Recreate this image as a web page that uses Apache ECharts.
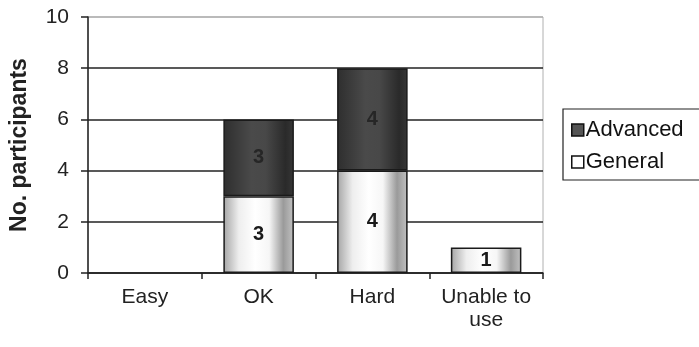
<!DOCTYPE html>
<html>
<head>
<meta charset="utf-8">
<style>
  html, body { margin: 0; padding: 0; background: #fff; }
  #chart { width: 699px; height: 347px; }
</style>
<script src="https://cdn.jsdelivr.net/npm/echarts@6/dist/echarts.min.js"></script>
</head>
<body>
<div id="chart"></div>
<script>
// Ease-of-use ratings, stacked by participant group
const categories = ['Easy', 'OK', 'Hard', 'Unable to\nuse'];
const generalCounts = [0, 3, 4, 1];
const advancedCounts = [0, 3, 4, 0];
const yTicks = [0, 2, 4, 6, 8, 10];

const font = '"Liberation Sans", Arial, sans-serif';

// Cylinder-style shading across each bar
const generalFill = new echarts.graphic.LinearGradient(0, 0, 1, 0, [
  { offset: 0, color: '#a4a4a4' },
  { offset: 0.22, color: '#eeeeee' },
  { offset: 0.45, color: '#ffffff' },
  { offset: 0.65, color: '#f6f6f6' },
  { offset: 0.85, color: '#9a9a9a' },
  { offset: 1, color: '#c2c2c2' }
]);
const advancedFill = new echarts.graphic.LinearGradient(0, 0, 1, 0, [
  { offset: 0, color: '#2e2e2e' },
  { offset: 0.4, color: '#4a4a4a' },
  { offset: 0.6, color: '#484848' },
  { offset: 0.88, color: '#2a2a2a' },
  { offset: 1, color: '#363636' }
]);

// Empty segments get no outline so nothing is drawn for them
const toBarData = arr => arr.map(v => (v > 0 ? v : { value: v, itemStyle: { borderWidth: 0 } }));
const showNonZero = p => (p.value > 0 ? String(p.value) : '');

const chart = echarts.init(document.getElementById('chart'), null, { renderer: 'canvas' });
chart.setOption({
  animation: false,
  backgroundColor: '#ffffff',
  grid: {
    left: 86, right: 156, top: 17, bottom: 74,
    show: true, borderColor: '#b0b0b0', borderWidth: 1, backgroundColor: 'transparent'
  },
  legend: {
    orient: 'vertical',
    left: 563, top: 109,
    padding: [10, 20, 7, 8],
    itemGap: 10,
    itemWidth: 12, itemHeight: 12,
    icon: 'rect',
    borderColor: '#222', borderWidth: 1.2,
    textStyle: { fontFamily: font, fontSize: 22, lineHeight: 22, color: '#111', padding: [0, 0, 0, -3] },
    data: [
      { name: 'Advanced', itemStyle: { color: '#555', borderColor: '#111', borderWidth: 1.5 } },
      { name: 'General', itemStyle: { color: '#fff', borderColor: '#111', borderWidth: 1.5 } }
    ]
  },
  xAxis: {
    type: 'category',
    data: categories,
    axisLine: { lineStyle: { color: '#222', width: 1.5 } },
    axisTick: { show: true, length: 6, lineStyle: { color: '#222', width: 1.5 } },
    axisLabel: {
      interval: 0,
      fontFamily: font, fontSize: 21, color: '#222', margin: 13, lineHeight: 23
    }
  },
  yAxis: {
    type: 'value',
    min: yTicks[0], max: yTicks[yTicks.length - 1], interval: 2,
    name: 'No. participants',
    nameLocation: 'middle',
    nameGap: 57,
    nameTextStyle: { fontFamily: font, fontSize: 23, fontWeight: 'bold', color: '#222' },
    axisLine: { show: true, lineStyle: { color: '#222', width: 1.5 } },
    axisTick: { show: true, length: 7, lineStyle: { color: '#222', width: 1.5 } },
    axisLabel: { fontFamily: font, fontSize: 21, color: '#222', margin: 19 },
    splitLine: {
      show: true,
      lineStyle: { color: ['#222', '#222', '#222', '#222', '#222', '#b0b0b0'], width: 1.5 }
    }
  },
  series: [
    {
      name: 'General',
      type: 'bar',
      stack: 'total',
      data: toBarData(generalCounts),
      barCategoryGap: '38%',
      itemStyle: { color: generalFill, borderColor: '#1a1a1a', borderWidth: 1.5 },
      label: {
        show: true, position: 'inside', formatter: showNonZero,
        fontFamily: font, fontSize: 20, fontWeight: 'bold', color: '#1a1a1a'
      }
    },
    {
      name: 'Advanced',
      type: 'bar',
      stack: 'total',
      data: toBarData(advancedCounts),
      barCategoryGap: '38%',
      itemStyle: { color: advancedFill, borderColor: '#1a1a1a', borderWidth: 1.5 },
      label: {
        show: true, position: 'inside', formatter: showNonZero,
        fontFamily: font, fontSize: 20, fontWeight: 'bold', color: '#262626'
      }
    }
  ]
});
</script>
</body>
</html>
